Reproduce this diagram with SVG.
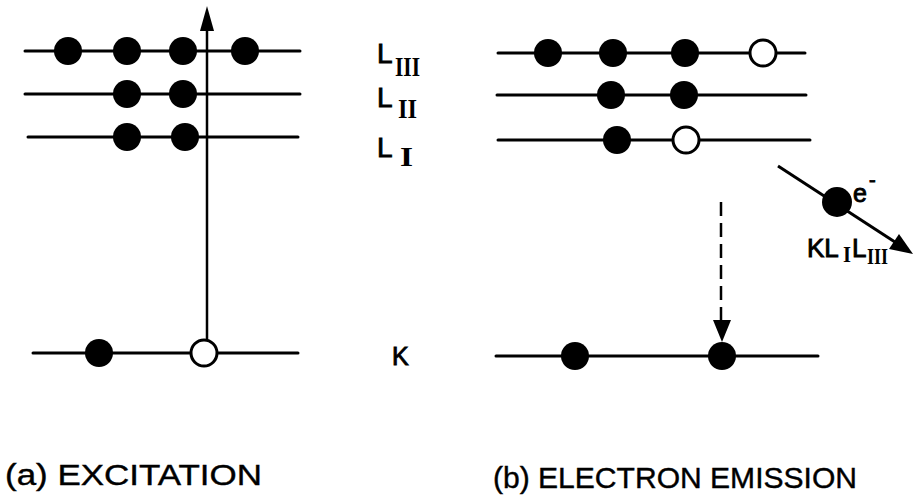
<svg xmlns="http://www.w3.org/2000/svg" width="915" height="501" viewBox="0 0 915 501">
<style>
.lv{stroke:#000;stroke-width:3;fill:none;stroke-linecap:round}
.f{fill:#000}
.o{fill:#fff;stroke:#000;stroke-width:3}
.t{font-family:"Liberation Sans",Arial,sans-serif;fill:#000;stroke:#000;stroke-width:0.9}
.c{font-family:"Liberation Sans",Arial,sans-serif;fill:#000;stroke:#000;stroke-width:0.4}
.r{font-family:"Liberation Serif","Times New Roman",serif;font-weight:bold;fill:#000}
</style>
<rect width="915" height="501" fill="#fff"/>
<g id="panel-a">
  <g id="a-LIII"><line class="lv" x1="25" y1="51" x2="300" y2="51"/>
    <circle class="f" cx="68" cy="51" r="14"/><circle class="f" cx="127" cy="51" r="14"/><circle class="f" cx="183" cy="51" r="14"/><circle class="f" cx="245" cy="51" r="14"/></g>
  <g id="a-LII"><line class="lv" x1="25" y1="94" x2="300" y2="94"/>
    <circle class="f" cx="127" cy="94" r="14"/><circle class="f" cx="183" cy="94" r="14"/></g>
  <g id="a-LI"><line class="lv" x1="28" y1="137" x2="298" y2="137"/>
    <circle class="f" cx="127" cy="137" r="14"/><circle class="f" cx="185" cy="137" r="14"/></g>
  <g id="a-K"><line class="lv" x1="33" y1="353" x2="298" y2="353"/>
    <circle class="f" cx="99" cy="353" r="14"/><circle class="o" cx="204" cy="353" r="13"/></g>
</g>
<g id="panel-b">
  <g id="b-LIII"><line class="lv" x1="498" y1="53" x2="805" y2="53"/>
    <circle class="f" cx="548" cy="53" r="14"/><circle class="f" cx="613" cy="53" r="14"/><circle class="f" cx="685" cy="53" r="14"/><circle class="o" cx="763" cy="53" r="13"/></g>
  <g id="b-LII"><line class="lv" x1="497" y1="95" x2="806" y2="95"/>
    <circle class="f" cx="611" cy="95" r="14"/><circle class="f" cx="684" cy="95" r="14"/></g>
  <g id="b-LI"><line class="lv" x1="498" y1="140" x2="810" y2="140"/>
    <circle class="f" cx="617" cy="140" r="14"/><circle class="o" cx="686" cy="140" r="13"/></g>
  <g id="b-K"><line class="lv" x1="496" y1="356" x2="818" y2="356"/>
    <circle class="f" cx="575" cy="356" r="14"/><circle class="f" cx="722" cy="356" r="14"/></g>
  <g id="electron"><circle class="f" cx="837" cy="202" r="15"/></g>
</g>
<g id="connectors">
  <line x1="207" y1="340" x2="207" y2="26" stroke="#000" stroke-width="2.5"/>
  <polygon points="207,6 200,31 214,31" fill="#000"/>
  <line x1="721" y1="202" x2="721" y2="322" stroke="#000" stroke-width="2.5" stroke-dasharray="14,7"/>
  <polygon points="722,342 713,320 731,320" fill="#000"/>
  <line x1="778" y1="166" x2="898" y2="244" stroke="#000" stroke-width="3"/>
  <polygon points="913,254 889,249 899,234" fill="#000"/>
</g>
<g id="labels">
  <text class="t" x="377" y="63" font-size="28">L</text><text class="r" x="395" y="76" font-size="27" textLength="25" lengthAdjust="spacingAndGlyphs">III</text>
  <text class="t" x="377" y="107" font-size="28">L</text><text class="r" x="398" y="118" font-size="27" textLength="19" lengthAdjust="spacingAndGlyphs">II</text>
  <text class="t" x="377" y="157" font-size="28">L</text><text class="r" x="400" y="166" font-size="27" textLength="13" lengthAdjust="spacingAndGlyphs">I</text>
  <text class="t" x="392" y="365" font-size="25">K</text>
  <text class="t" x="853" y="202" font-size="25">e</text><text class="t" x="869" y="187" font-size="20">-</text>
  <text class="t" x="807" y="257" font-size="26">KL</text><text class="r" x="843" y="262" font-size="23" textLength="8" lengthAdjust="spacingAndGlyphs">I</text>
  <text class="t" x="852" y="257" font-size="26">L</text><text class="r" x="867" y="264" font-size="23" textLength="21" lengthAdjust="spacingAndGlyphs">III</text>
  <text class="c" x="5" y="485" font-size="30" textLength="257" lengthAdjust="spacingAndGlyphs">(a)  EXCITATION</text>
  <text class="c" x="493" y="488" font-size="29" textLength="364" lengthAdjust="spacingAndGlyphs">(b) ELECTRON EMISSION</text>
</g>
</svg>
